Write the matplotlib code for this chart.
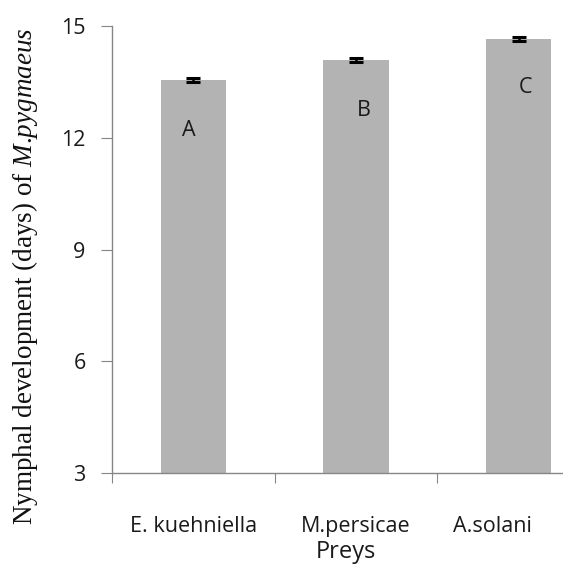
import matplotlib
matplotlib.use('Agg')
import matplotlib.pyplot as plt
import matplotlib.transforms as mtransforms
import numpy as np

plt.rcParams['mathtext.fontset'] = 'custom'
plt.rcParams['mathtext.it'] = 'Liberation Serif:italic'
plt.rcParams['mathtext.rm'] = 'Liberation Serif'

# data
preys = ['E. kuehniella', 'M.persicae', 'A.solani']
means = [13.55, 14.08, 14.65]
errs = [0.05, 0.05, 0.05]
letters = ['A', 'B', 'C']
letter_y = [12.2, 12.72, 13.34]
letter_dx = [-0.03, 0.05, 0.04]

fig = plt.figure(figsize=(5.63, 5.64), dpi=100)
# axes runs past the right edge, like the cropped original
ax = fig.add_axes([112 / 563, 91 / 564, 488 / 563, 447 / 564])

x = np.arange(len(preys))
ax.bar(x, means, width=0.4, color='#b3b3b3', zorder=2)
ax.errorbar(x, means, yerr=errs, fmt='none', ecolor='black',
            elinewidth=1.8, capsize=5, capthick=2.2, zorder=3)

for i, t in enumerate(letters):
    ax.text(x[i] + letter_dx[i], letter_y[i], t, ha='center', va='center',
            fontsize=15.5, family='Open Sans', color='#1a1a1a')

ax.set_xlim(-0.5, 2.5)
ax.set_ylim(3, 15)
ax.set_yticks([3, 6, 9, 12, 15])
ax.set_xticks([-0.5, 0.5, 1.5, 2.5])
ax.set_xticklabels([])
ax.set_xticks(x, minor=True)
ax.set_xticklabels(preys, minor=True)
ax.tick_params(axis='x', which='minor', length=0, pad=31)
ax.tick_params(axis='x', which='major', length=7, color='#868686', direction='out')
ax.tick_params(axis='y', length=8, color='#868686', pad=11)

for lab in ax.get_yticklabels() + ax.get_xticklabels(minor=True):
    lab.set_family('Open Sans')
    lab.set_fontsize(15.5)
    lab.set_color('#1a1a1a')

# last label sits shifted left in the original
lbl = ax.get_xticklabels(minor=True)[2]
lbl.set_transform(lbl.get_transform() + mtransforms.ScaledTranslation(-26 / 100, 0, fig.dpi_scale_trans))

for s in ['top', 'right']:
    ax.spines[s].set_visible(False)
for s in ['left', 'bottom']:
    ax.spines[s].set_color('#868686')
    ax.spines[s].set_linewidth(1.0)

fig.text(346 / 563, 6 / 564, 'Preys', ha='center', va='baseline',
         fontsize=17, family='Open Sans', color='#1a1a1a')
fig.text(25 / 563, 288 / 564, r'Nymphal development (days) of $\it{M}$.$\it{pygmaeus}$',
         rotation=90, ha='center', va='center', fontsize=19.5,
         family='Liberation Serif', color='#111111')

fig.savefig('out.png', dpi=100)
